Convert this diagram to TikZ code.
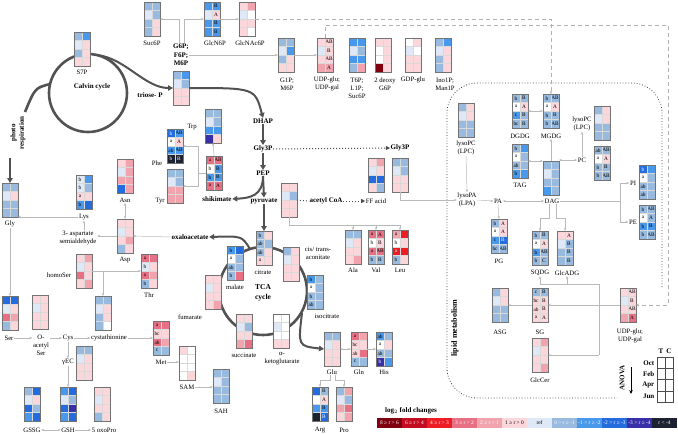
\documentclass[tikz,border=0pt]{standalone}
\usepackage{fontspec}
\setmainfont{Liberation Serif}
\usetikzlibrary{arrows.meta,calc}

% heat map colours (log2 fold change classes)
\definecolor{c1}{RGB}{128,0,16}
\definecolor{c2}{RGB}{196,12,32}
\definecolor{c3}{RGB}{238,28,36}
\definecolor{c4}{RGB}{232,112,132}
\definecolor{c5}{RGB}{242,164,174}
\definecolor{c6}{RGB}{251,214,219}
\definecolor{rf}{RGB}{222,232,246}
\definecolor{n1}{RGB}{152,186,222}
\definecolor{n2}{RGB}{72,152,236}
\definecolor{n3}{RGB}{36,108,222}
\definecolor{n4}{RGB}{56,48,168}
\definecolor{n5}{RGB}{28,34,48}
% letter colours in the cells
\colorlet{tc1}{white}\colorlet{tc2}{white}\colorlet{tc3}{white}
\colorlet{tc4}{black}\colorlet{tc5}{black}\colorlet{tc6}{black}
\colorlet{trf}{black}\colorlet{twhite}{black}\colorlet{tn1}{black}
\colorlet{tn2}{black}\colorlet{tn3}{white}\colorlet{tn4}{white}\colorlet{tn5}{white}
% legend text colours
\colorlet{lc1}{white}\colorlet{lc2}{white}\colorlet{lc3}{white}
\colorlet{lc4}{white}\colorlet{lc5}{white}\colorlet{lc6}{black}
\colorlet{lrf}{black}\colorlet{ln1}{white}\colorlet{ln2}{white}
\colorlet{ln3}{white}\colorlet{ln4}{white}\colorlet{ln5}{white}

\tikzset{
  lbl/.style={font=\fontsize{6.7}{8}\selectfont, inner sep=0.5pt, align=center},
  blbl/.style={font=\fontsize{7}{8.5}\selectfont\bfseries, inner sep=0.5pt, align=center},
  hmbox/.style={minimum width=16pt, minimum height=34pt, inner sep=0pt, outer sep=0pt},
  hmtxt/.style={font=\fontsize{5.3}{5.5}\selectfont, inner sep=0pt},
  hmline/.style={draw=black!55, line width=0.4pt},
  hmsep/.style={draw=white!70!gray, line width=0.25pt},
  cline/.style={draw=gray!55, line width=0.5pt},
  flow/.style={cline, -{Stealth[length=3pt,width=2.4pt]}},
  bflow/.style={cline, {Stealth[length=3pt,width=2.4pt]}-{Stealth[length=3pt,width=2.4pt]}},
  mainflow/.style={draw=black!68, line width=2pt, -{Triangle[length=5pt,width=5.5pt]}},
  cyc/.style={draw=black!68, line width=2.6pt},
  dotflow/.style={draw=black!70, dotted, line width=1pt},
  dsh/.style={draw=gray!60, line width=0.8pt, dash pattern=on 4pt off 3pt},
  legtxt/.style={font=\fontsize{5.4}{6}\selectfont, inner sep=0pt}
}

% box of 2 x 4 cells, colours only
\newcommand{\hmgrid}[1]{%
  \draw[hmsep] (#1.north) -- (#1.south);
  \foreach \hr in {1,2,3} \draw[hmsep] ($(#1.north west)+(0,\hr*8.5)$) -- ++(16,0);
  \draw[hmline] (#1.north west) rectangle (#1.south east);
}
\newcommand{\hmap}[3]{%
  \node[hmbox] (#1) at (#2) {};
  \foreach \hc [count=\hi from 0] in {#3} {%
    \pgfmathtruncatemacro{\hr}{div(\hi,2)}%
    \pgfmathtruncatemacro{\hq}{mod(\hi,2)}%
    \fill[\hc] ($(#1.north west)+(\hq*8,\hr*8.5)$) rectangle ++(8,8.5);
  }
  \hmgrid{#1}%
}
% box of 2 x 4 cells with letters
\newcommand{\hmapl}[3]{%
  \node[hmbox] (#1) at (#2) {};
  \foreach \hc/\hl [count=\hi from 0] in {#3} {%
    \pgfmathtruncatemacro{\hr}{div(\hi,2)}%
    \pgfmathtruncatemacro{\hq}{mod(\hi,2)}%
    \fill[\hc] ($(#1.north west)+(\hq*8,\hr*8.5)$) rectangle ++(8,8.5);
    \node[hmtxt, text=t\hc] at ($(#1.north west)+(\hq*8+4,\hr*8.5+4.25)$) {\hl};
  }
  \hmgrid{#1}%
}

\begin{document}
\begin{tikzpicture}[x=1pt, y=-1pt]
\useasboundingbox (0,0) rectangle (678,434);

% Cycles
\draw[cyc] (88,93) circle[radius=39pt];
\draw[cyc] (263,291) circle[radius=44pt];
\draw[cyc] (50,84) .. controls (35,88) .. (25,112);

% Lipid region
\draw[black!75, dotted, line width=0.8pt, rounded corners=30pt]
  (662,287) -- (662,83) -- (447,83) -- (447,398) -- (617,398);
\node[blbl, font=\fontsize{8}{9}\selectfont\bfseries, rotate=90] (tlipid) at (455,328) {lipid metabolism};

% Sugars (top row)
\hmap{suc6p}{152,19}{n1,n1,rf,n1,n1,c6,n1,c6}
\hmapl{glcn6p}{212,19}{n2/\relax,n2/B,rf/\relax,c6/A,n2/\relax,n2/B,n2/\relax,n2/B}
\hmap{glcnac6p}{247,19}{c6,c5,rf,white,c6,c6,c6,white}
\hmap{s7p}{82,49}{n1,n2,rf,c6,n1,c6,c6,c6}
\hmap{g6p}{181,88}{n1,n2,rf,n1,c6,c6,c6,c6}
\hmap{g1p}{286,55}{n1,n1,rf,n2,n1,c6,c6,c6}
\hmapl{udpg}{325,55}{c6/\relax,c6/AB,rf/\relax,c6/B,c6/\relax,c6/AB,c5/\relax,c5/A}
\hmap{t6p}{357,55}{n2,n2,rf,n1,n2,n2,n1,c5}
\hmap{deoxy}{383,55}{c6,c6,white,c6,white,c6,c1,c6}
\hmap{gdpglu}{413,55}{white,c6,rf,white,c6,c6,c6,c6}
\hmap{ino1p}{443,55}{n1,n2,rf,c6,n1,c6,n1,c6}

\node[lbl] (tsuc6p) at (152,43) {Suc6P};
\node[lbl] (tglcn6p) at (215,43) {GlcN6P};
\node[lbl] (tglcnac) at (250,43) {GlcNAc6P};
\node[lbl] (ts7p) at (82,72) {S7P};
\node[blbl] (tcalvin) at (92,87) {Calvin cycle};
\node[blbl] (tg6p) at (181,55) {G6P;\\F6P;\\M6P};
\node[blbl] (ttriose) at (150,95) {triose- P};
\node[lbl] (tg1p) at (287,84) {G1P;\\M6P};
\node[lbl] (tudpg) at (327,84) {UDP-glu;\\UDP-gal};
\node[lbl] (tt6p) at (357,88) {T6P;\\L1P;\\Suc6P};
\node[lbl] (tdeoxy) at (385,84) {2 deoxy\\G6P};
\node[lbl] (tgdp) at (413,80) {GDP-glu};
\node[lbl] (tino) at (445,84) {Ino1P;\\Man1P};
\node[blbl, rotate=90] (tphoto) at (18,133) {photo\\respiration};
\coordinate (prend) at (10,158);

% Amino acids (left)
\hmap{gly}{10,200}{n1,n1,rf,c6,n1,n1,n1,n1}
\hmapl{lys}{84,192}{rf/b,n2/\relax,rf/b,n1/\relax,c6/a,c6/\relax,n2/b,n3/\relax}
\hmap{asn}{125,176}{c6,c5,rf,c5,c5,c5,n3,c5}
\hmap{asp}{125,236}{c6,c6,rf,c6,c6,c5,n1,c6}
\hmap{homoser}{84,271}{c6,c5,rf,c6,c4,c6,c6,c5}
\hmapl{thr}{149,271}{c4/a,c4/\relax,rf/b,c6/\relax,c4/a,c5/\relax,n1/b,c6/\relax}
\hmap{ser}{10,313}{n3,n3,rf,c6,c4,c5,n1,c6}
\hmap{oacser}{40,312}{c6,c6,rf,c6,c6,c6,c6,c6}
\hmap{cysta}{103,313}{n1,n1,rf,c6,n1,c6,n1,white}
\hmapl{met}{161,338}{c4/a,c4/\relax,c6/bc,c6/\relax,c4/ab,c5/\relax,n1/c,n1/\relax}
\hmap{gec}{84,363}{n1,n1,rf,c6,c6,c6,c6,c6}
\hmap{gssg}{32,404}{n1,n3,rf,c6,n3,n1,n2,n3}
\hmap{gsh}{68,404}{n2,n3,rf,n1,n3,n4,n2,n3}
\hmap{oxopro}{102,404}{c6,c6,rf,c6,c6,c6,n1,c6}
\hmap{sam}{187,363}{c6,white,white,white,white,white,white,c6}
\hmap{sah}{221,386}{n1,n1,rf,n1,n1,n1,n1,n1}

\node[lbl] (tgly) at (10,224) {Gly};
\node[lbl] (tlys) at (84,217) {Lys};
\node[lbl] (tasn) at (125,200) {Asn};
\node[lbl] (tasp) at (125,260) {Asp};
\node[lbl] (tasa) at (78,238) {3- aspartate\\semialdehyde};
\node[blbl] (toxal) at (190,237) {oxaloacetate};
\node[lbl] (thomo) at (59,275) {homoSer};
\node[lbl] (tthr) at (149,295) {Thr};
\node[lbl] (tser) at (9,338) {Ser};
\node[lbl, anchor=north] (toac) at (41,334) {O-\\acetyl\\Ser};
\node[lbl] (tcys) at (68,338) {Cys};
\node[lbl] (tcysta) at (109,338) {cystathionine};
\node[lbl] (tmet) at (161,362) {Met};
\node[lbl] (tgec) at (68,362) {γEC};
\node[lbl] (tgssg) at (32,430) {GSSG};
\node[lbl] (tgsh) at (68,430) {GSH};
\node[lbl] (toxo) at (104,430) {5 oxoPro};
\node[lbl] (tsam) at (187,387) {SAM};
\node[lbl] (tsah) at (221,411) {SAH};

% Aromatics, glycolysis
\hmap{trp}{213,126}{n1,n1,rf,n1,n2,n2,n4,c6}
\hmapl{phe}{175,146}{n3/b,n2/AB,white/a,c6/A,n2/ab,n2/AB,n5/b,n5/B}
\hmap{tyr}{175,186}{n1,n1,rf,n1,c5,c5,c5,c5}
\hmapl{shik}{214,173}{c4/a,c4/AB,white/b,n2/B,n2/b,n2/B,c4/a,c4/A}
\node[lbl] (ttrp) at (192,127) {Trp};
\node[lbl] (tphe) at (157,163) {Phe};
\node[lbl] (ttyr) at (160,201) {Tyr};
\node[blbl] (tshik) at (217,199) {shikimate};
\node[blbl] (tdhap) at (263,121) {DHAP};
\node[blbl] (tgly3p) at (263,149) {Gly3P};
\node[blbl] (tpep) at (263,173) {PEP};
\node[blbl] (tpyr) at (264,201) {pyruvate};

\hmap{acoa}{289,200}{c6,c6,rf,n1,c6,c6,c6,c6}
\hmap{ffa}{376,175}{c6,c5,rf,c6,n3,n3,c6,n1}
\hmap{g3pl}{400,175}{n1,n1,rf,n1,c6,c6,c6,c6}
\node[blbl] (tacoa) at (326,201) {acetyl CoA};
\node[lbl] (tffa) at (376,201) {FF acid};
\node[blbl] (tg3pl) at (400,148) {Gly3P};
\hmap{ala}{353,247}{n1,n1,rf,c6,c6,c6,c6,c5}
\hmapl{val}{376,247}{c4/a,c4/A,white/b,c6/B,c4/a,c4/AB,n1/b,n1/B}
\hmapl{leu}{400,247}{c5/a,c3/\relax,white/b,c6/\relax,c3/a,c3/\relax,n1/b,c6/\relax}
\node[lbl] (tala) at (353,270) {Ala};
\node[lbl] (tval) at (376,270) {Val};
\node[lbl] (tleu) at (400,270) {Leu};

% TCA cycle
\node[blbl, font=\fontsize{7.5}{10}\selectfont\bfseries] (ttca) at (263,293) {TCA\\cycle};
\hmapl{citrate}{264,248}{n1/b,c6/\relax,n1/ab,n1/\relax,n1/ab,c6/\relax,c6/a,c6/\relax}
\hmapl{malate}{235,263}{n2/b,n3/\relax,white/a,n1/\relax,n1/ab,n1/\relax,n1/b,c4/\relax}
\hmap{cisacon}{291,264}{n1,c6,rf,c6,c6,c6,c6,c6}
\hmapl{isocit}{315,292}{n2/b,n1/\relax,white/a,n1/\relax,n1/b,n1/\relax,n1/ab,n1/\relax}
\hmap{fumarate}{213,292}{c6,c6,rf,c6,c6,c6,c6,c5}
\hmap{succinate}{244,331}{c6,c6,rf,n1,c6,c6,c5,c4}
\hmap{akg}{281,331}{white,white,rf,white,white,white,c6,c6}
\node[lbl] (tcitrate) at (263,272) {citrate};
\node[lbl] (tmalate) at (235,287) {malate};
\node[lbl] (tcis) at (318,253) {cis/ trans-\\aconitate};
\node[lbl] (tisocit) at (327,316) {isocitrate};
\node[lbl] (tfumarate) at (190,317) {fumarate};
\node[lbl] (tsuccinate) at (244,355) {succinate};
\node[lbl] (takg) at (282,359) {α-\\ketoglutarate};

\hmap{glu}{332,349}{n1,n1,rf,c6,c6,c6,c6,c6}
\hmapl{gln}{359,349}{c4/a,c5/\relax,c6/bc,c6/\relax,c6/ab,c4/\relax,n1/c,n1/\relax}
\hmapl{his}{384,349}{n2/ab,n1/\relax,white/a,c6/\relax,n1/ab,n1/\relax,n4/b,n2/\relax}
\hmapl{arg}{320,404}{n3/\relax,n1/B,white/\relax,c6/A,n2/\relax,n2/B,n5/\relax,n3/B}
\hmap{pro}{344,404}{n1,c5,rf,n1,c5,c4,c6,c5}
\node[lbl] (tglu) at (332,372) {Glu};
\node[lbl] (tgln) at (359,372) {Gln};
\node[lbl] (this) at (384,372) {His};
\node[lbl] (targ) at (320,430) {Arg};
\node[lbl] (tpro) at (344,430) {Pro};

% Lipids
\hmap{lpc1}{466,120}{n1,c6,rf,c6,n1,n1,n1,n1}
\hmap{dag}{551,178}{n1,n1,rf,n1,n1,n1,n2,n1}
\hmapl{tag}{520,161}{n1/b,n2/\relax,white/a,n1/\relax,n1/ab,n1/\relax,n2/b,n2/\relax}
\hmapl{dgdg}{520,111}{n1/b,n1/B,white/a,c6/A,n2/c,n1/B,n1/bc,n1/B}
\hmapl{mgdg}{551,111}{n1/b,n1/AB,white/a,c6/A,n1/b,n1/B,n1/b,n1/AB}
\hmap{lpc2}{602,123}{n1,c6,rf,c6,n1,n1,n1,n1}
\hmapl{pc}{602,163}{n1/ab,n1/AB,white/a,c6/A,n1/b,n1/B,n1/b,n1/AB}
\hmapl{pi}{647,182}{n3/b,n2/\relax,white/a,n1/\relax,n1/ab,n1/\relax,n1/ab,n1/\relax}
\hmapl{pe}{647,222}{n1/b,n1/AB,white/a,n1/A,n2/b,n2/B,n1/b,n1/AB}
\hmapl{pg}{499,236}{n1/b,c6/A,white/a,c6/A,n2/c,n3/B,n1/bc,n1/AB}
\hmapl{sqdg}{540,248}{n1/b,n1/B,white/a,c6/A,n2/b,n1/AB,n1/b,n1/C}
\hmapl{glcadg}{565,248}{c6/\relax,c6/A,rf/\relax,n1/B,n1/\relax,n1/B,n1/\relax,n1/B}
\hmap{asg}{500,305}{n1,c6,rf,c6,n1,n1,n1,n1}
\hmapl{sg}{540,305}{n1/c,n1/B,c6/bc,c6/B,c6/ab,c6/B,c6/a,c6/A}
\hmap{glccer}{540,355}{c6,c5,rf,c6,c6,c6,c6,c5}
\hmapl{udpl}{628,305}{c6/\relax,c6/AB,rf/\relax,c6/B,c6/\relax,c6/AB,c5/\relax,c4/A}

\node[lbl] (tlpc1) at (466,148) {lysoPC\\(LPC)};
\node[lbl] (tlpa) at (467,200) {lysoPA\\(LPA)};
\node[lbl] (tpa) at (498,201) {PA};
\node[lbl] (tdag) at (552,201) {DAG};
\node[lbl] (ttag) at (520,185) {TAG};
\node[lbl] (tdgdg) at (520,136) {DGDG};
\node[lbl] (tmgdg) at (551,136) {MGDG};
\node[lbl] (tpc) at (582,160) {PC};
\node[lbl] (tlpc2) at (582,124) {lysoPC\\(LPC)};
\node[lbl] (tpi) at (633,183) {PI};
\node[lbl] (tpe) at (633,222) {PE};
\node[lbl] (tpg) at (499,261) {PG};
\node[lbl] (tsqdg) at (540,273) {SQDG};
\node[lbl] (tglcadg) at (567,273) {GlcADG};
\node[lbl] (tasg) at (500,332) {ASG};
\node[lbl] (tsg) at (540,332) {SG};
\node[lbl] (tglccer) at (540,380) {GlcCer};
\node[lbl] (tudpl) at (630,336) {UDP-glu;\\UDP-gal};

% Main flux arrows
\draw[mainflow] (97,55) .. controls (125,58) and (145,88) .. (g6p.west);
\draw[mainflow] (g6p.east) .. controls (255,88) .. (tdhap.north);
\draw[mainflow] (tdhap.south) -- (tgly3p.north);
\draw[mainflow] (tgly3p.south) -- (tpep.north);
\draw[mainflow] (tpep.south) -- (tpyr.north);
\draw[mainflow] (tpep.south) .. controls (263,196) and (250,198) .. (tshik.east);
\draw[mainflow] (tpyr.south) -- (citrate.north);
\draw[mainflow] (250,249) .. controls (242,236) .. (toxal.east);
\draw[mainflow] (302,313) .. controls (298,346) .. (glu.west);
\draw[mainflow] (prend) -- (gly.north);
\draw[dotflow, -{Triangle[length=4pt,width=4pt]}] (tgly3p.east) -- (tg3pl.west);
\draw[dotflow] (acoa.east) -- (tacoa.west);
\draw[dotflow, -{Triangle[length=4pt,width=4pt]}] (tacoa.east) -- (tffa.west);

% Sugar connectors
\draw[flow] ([xshift=-2pt]tg6p.north) |- (suc6p.east);
\draw[flow] ([xshift=3pt]tg6p.north) |- (glcn6p.west);
\draw[flow] (glcn6p.east) -- (glcnac6p.west);
\draw[flow] (tg6p.east) -- (g1p.west);
\draw[flow] (g1p.east) -- (udpg.west);
\draw[dsh, -{Stealth[length=3pt,width=2.6pt]}] (glcnac6p.east) -| (mgdg.north);
\draw[dsh, -{Stealth[length=3pt,width=2.6pt]}] (udpg.north) |- (668,25) |- (udpl.east);

% Amino acid connectors
\draw[flow] (tlys.west) -- (tlys.west -| gly.east);
\draw[flow] (tgly.south) -- (ser.north);
\draw[flow] (tlys.south |- tasa.north) -- (tlys.south);
\draw[bflow] (tasn.south) -- (asp.north);
\draw[flow] (asp.west) -- (asp.west -| tasa.east);
\draw[flow] (toxal.west) -- (asp.east);
\draw[flow] (homoser.east) -- (thr.west);
\draw[flow] (homoser.east -| cysta.north) -- (cysta.north);
\draw[flow] (tser.east) -- (tser.east -| toac.west);
\draw[flow] (tcys.west -| toac.east) -- (tcys.west);
\draw[flow] (tcys.east) -- (tcysta.west);
\draw[flow] (tcysta.east) -- (met.west);
\draw[flow] (tcys.south) -- (tgec.north);
\draw[flow] (tgec.south) -- (gsh.north);
\draw[bflow] (tgssg.east) -- (tgsh.west);
\draw[flow] (tgsh.east) -- (toxo.west);
\draw[flow] (tmet.east) -- (tmet.east -| sam.west);
\draw[flow] (tsam.east) -- (tsam.east -| sah.west);
\coordinate (shkj) at ($(shik.west)+(-8,0)$);
\draw[cline] (shik.west) -- (shkj);
\draw[flow] (shkj) |- (phe.east);
\draw[flow] (shkj) |- (tyr.east);
\draw[flow] (shik.north) -- (trp.south);
\draw[cline] (acoa.south) |- (leu.north |- 0,225);
\draw[flow] (ala.north |- 0,225) -- (ala.north);
\draw[flow] (val.north |- 0,225) -- (val.north);
\draw[flow] (leu.north |- 0,225) -- (leu.north);
\draw[bflow] (glu.east) -- (gln.west);
\draw[flow] (gln.east) -- (his.west);
\draw[flow] ([xshift=-2pt]tglu.south) -- ++(0,5) -| (arg.north);
\draw[flow] ([xshift=3pt]tglu.south) -- ++(0,5) -| (pro.north);

% Lipid connectors
\draw[flow] (g3pl.south) |- (tlpa.west);
\draw[flow] (tlpc1.south) -- (tlpa.north);
\draw[flow] (tlpa.east) -- (tpa.west);
\draw[bflow] (tpa.east) -- (tdag.west);
\draw[bflow] (dgdg.east) -- (mgdg.west);
\draw[bflow] (tag.east) -- (tag.east -| dag.west);
\draw[flow] (dag.north) -- (tmgdg.south);
\draw[bflow] (tpc.west -| dag.east) -- (tpc.west);
\draw[flow] (tpc.north) -- (tlpc2.south);
\coordinate (pj) at (620,201);
\draw[cline] (tdag.east) -- (pj);
\draw[flow] (pj) |- (tpi.west);
\draw[flow] (pj) |- (tpe.west);
\draw[flow] (tpa.south) -- (pg.north);
\draw[flow] ([xshift=-3pt]tdag.south) -- ++(0,14) -| (sqdg.north);
\draw[flow] ([xshift=4pt]tdag.south) -- ++(0,14) -| (glcadg.north);
\coordinate (lj1) at (599,284);
\coordinate (lj2) at (599,355);
\draw[flow] (udpl.west) -- (sg.east);
\draw[flow] (sg.west) -- (asg.east);
\draw[flow] (lj1) -| (tsqdg.south);
\draw[flow] (lj1) -| (tglcadg.south);
\draw[cline] (lj1) -- (lj2);
\draw[flow] (lj2) -- (glccer.east);

% ANOVA key
\draw[black!70, line width=0.5pt] (657,357) rectangle (673,402);
\draw[black!70, line width=0.5pt] (665,357) -- (665,402);
\foreach \ar in {1,2,3} \draw[black!70, line width=0.5pt] (657,357+\ar*11.25) -- (673,357+\ar*11.25);
\node[blbl] (tkt) at (661,351) {T};
\node[blbl] (tkc) at (669,351) {C};
\foreach \am/\ay in {Oct/363,Feb/374,Apr/385,Jun/396}
  \node[blbl, anchor=east] at (655,\ay) {\am};
\node[blbl, rotate=90] (tanova) at (622,378) {ANOVA};
\coordinate (an1) at (631,367);
\coordinate (an2) at (631,394);
\draw[-{Stealth[length=4pt,width=3.5pt]}, line width=0.9pt] (an1) -- (an2);

% Legend
\node[blbl] (tlog) at (411,411) {log$_2$ fold changes};
\foreach \lc/\lt [count=\li from 0] in {c1/8 ≥ r > 6,c2/6 ≥ r > 4,c3/4 ≥ r > 3,c4/3 ≥ r > 2,c5/2 ≥ r > 1,c6/1 ≥ r > 0,rf/ref,n1/0 > r ≥ -1,n2/-1 > r ≥ -2,n3/-2 > r ≥ -3,n4/-3 > r ≥ -4,n5/r < -4} {
  \fill[\lc] (377+\li*25,418) rectangle ++(25,10);
  \node[legtxt, text=l\lc] at (389.5+\li*25,423) {\lt};
}
\end{tikzpicture}
\end{document}
